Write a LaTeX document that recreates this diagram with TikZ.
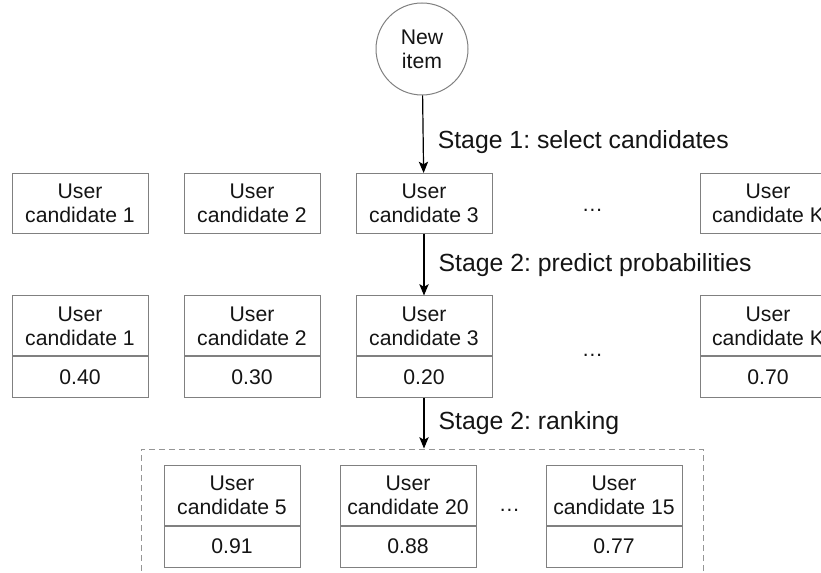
\documentclass[tikz,border=0pt]{standalone}
\usepackage{fontspec}
\setmainfont{Liberation Sans}
\usetikzlibrary{positioning,arrows.meta}
\definecolor{edgegray}{RGB}{128,128,128}
\definecolor{dashgray}{RGB}{150,150,150}
\definecolor{inkblack}{RGB}{20,20,20}
\frenchspacing

\begin{document}
\begin{tikzpicture}[
            x=0.75pt, y=-0.75pt,
            every node/.style={font=\fontsize{15.9}{18}\selectfont, text=inkblack},
            ubox/.style={rectangle, draw=edgegray, line width=0.75pt, minimum width=102pt, minimum height=45pt, inner sep=0pt, align=center},
            score/.style={ubox, minimum height=30.75pt},
            itemcirc/.style={circle, draw=edgegray, line width=0.75pt, minimum size=69pt, inner sep=0pt, align=center},
            frame/.style={rectangle, draw=dashgray, dash pattern=on 4.5pt off 3pt, line width=0.75pt, minimum width=421.5pt, minimum height=120pt},
            stage/.style={right, inner sep=0pt, xshift=10.5pt, font=\fontsize{18.6}{21}\selectfont},
            arr/.style={-{Stealth[length=8.5pt,width=7pt,inset=2pt]}, line width=0.9pt, draw=black}
            ]
            \clip (0,0) rectangle (821,573);
            % New item
            \node[itemcirc] (item) at (422,49) {New\\item};
            % Stage 1 candidates
            \node[ubox] (s1) at (80,203.5) {User\\candidate 1};
            \node[ubox, right=26.25pt of s1] (s2) {User\\candidate 2};
            \node[ubox, right=26.25pt of s2] (s3) {User\\candidate 3};
            \node[ubox, right=155.25pt of s3] (sK) {User\\candidate K};
            \node[anchor=base] (d1) at (592.5,212) {\dots};
            % Stage 2 probabilities
            \node[ubox] (p1) at (80,326) {User\\candidate 1};
            \node[score, below=0pt of p1] (p1v) {0.40};
            \node[ubox, right=26.25pt of p1] (p2) {User\\candidate 2};
            \node[score, below=0pt of p2] (p2v) {0.30};
            \node[ubox, right=26.25pt of p2] (p3) {User\\candidate 3};
            \node[score, below=0pt of p3] (p3v) {0.20};
            \node[ubox, right=155.25pt of p3] (pK) {User\\candidate K};
            \node[score, below=0pt of pK] (pKv) {0.70};
            \node[anchor=base] (d2) at (592.5,357) {\dots};
            % Ranking
            \node[frame] (rank) at (422,529) {};
            \node[ubox] (r5) at (232,495) {User\\candidate 5};
            \node[score, below=0pt of r5] (r5v) {0.91};
            \node[ubox, right=29.25pt of r5] (r20) {User\\candidate 20};
            \node[score, below=0pt of r20] (r20v) {0.88};
            \node[ubox, right=51.75pt of r20] (r15) {User\\candidate 15};
            \node[score, below=0pt of r15] (r15v) {0.77};
            \node[anchor=base] (d3) at (509.5,511) {\dots};
            % Stages
            \draw[arr] (item) -- node[stage, pos=0.6] {Stage 1: select candidates} (s3);
            \draw[arr] (s3) -- node[stage] {Stage 2: predict probabilities} (p3);
            \draw[arr] (p3v) -- node[stage] {Stage 2: ranking} (p3v.south |- rank.north);
          \end{tikzpicture}
\end{document}
